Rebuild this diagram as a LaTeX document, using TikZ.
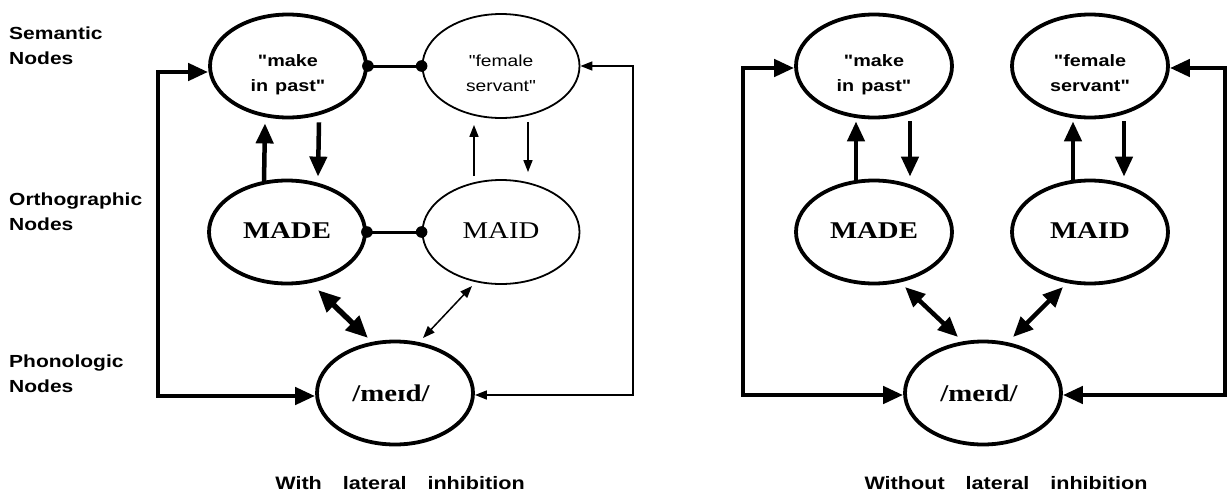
\documentclass[tikz,border=0pt]{standalone}
\usepackage{fontspec}
\setmainfont{Liberation Serif}[FakeStretch=1.2]
\setsansfont{Liberation Sans}[FakeStretch=1.2,Ligatures=TeXOff]
\usetikzlibrary{shapes.geometric,arrows.meta,calc}
\newcommand{\qd}{\char34\relax}
\newcommand{\twoline}[2]{\raisebox{-12pt}[0pt][0pt]{\begin{tabular}{@{}c@{}}#1\\#2\end{tabular}}}
\begin{document}
\begin{tikzpicture}[x=1pt,y=-1pt,
  thickell/.style={ellipse,draw,line width=3.8pt,minimum width=156pt,minimum height=103pt,inner sep=0pt},
  thinell/.style={ellipse,draw,line width=1.8pt,minimum width=157pt,minimum height=104pt,inner sep=0pt},
  sem/.style={font=\sffamily\bfseries\fontsize{16.5}{24}\selectfont\renewcommand{\arraystretch}{1.05}},
  semthin/.style={font=\sffamily\fontsize{16}{24}\selectfont\renewcommand{\arraystretch}{1.05}},
  orth/.style={font=\rmfamily\bfseries\fontsize{24}{28}\selectfont},
  orththin/.style={font=\rmfamily\fontsize{24}{28}\selectfont},
  lbl/.style={font=\sffamily\bfseries\fontsize{17.5}{25}\selectfont,align=left,anchor=west,inner sep=0pt},
  capt/.style={font=\sffamily\bfseries\fontsize{18}{22}\selectfont,inner sep=0pt},
  thickarr/.style={line width=4.5pt,-{Triangle[length=20pt,width=17pt]}},
  thinarr/.style={line width=1.5pt,-{Triangle[length=12pt,width=9pt]}},
  thickboth/.style={line width=4.5pt,{Triangle[length=20pt,width=17pt]}-{Triangle[length=20pt,width=17pt]}},
  heavyboth/.style={line width=5.5pt,{Triangle[length=22pt,width=19pt]}-{Triangle[length=22pt,width=19pt]}},
  thinboth/.style={line width=1.5pt,{Triangle[length=12pt,width=9pt]}-{Triangle[length=12pt,width=9pt]}},
  inhib/.style={line width=3pt},
  dotc/.style={fill=black}
]
\path[fill=white] (0,0) rectangle (1229,493);

% ---- row labels
\node[lbl] (lsem) at (9,46) {Semantic\\Nodes};
\node[lbl] (lort) at (9,212) {Orthographic\\Nodes};
\node[lbl] (lpho) at (9,374) {Phonologic\\Nodes};

% ---- left panel nodes
\node[thickell,sem] (L1) at (288,66) {\twoline{\qd make}{in\hspace{7pt}past\qd}};
\node[thinell,semthin] (L2) at (501,66) {\twoline{\qd female}{servant\qd}};
\node[thickell,orth] (L3) at (287,232) {\raisebox{3pt}{MADE}};
\node[thinell,orththin] (L4) at (501,232) {\raisebox{3pt}{MAID}};
\node[thickell,orth] (L5) at (395,393) {\hspace{-8pt}/meɪd/};

% ---- right panel nodes
\node[thickell,sem] (R1) at (874,66) {\twoline{\qd make}{in\hspace{7pt}past\qd}};
\node[thickell,sem] (R2) at (1090,66) {\twoline{\qd female}{servant\qd}};
\node[thickell,orth] (R3) at (874,232) {\raisebox{3pt}{MADE}};
\node[thickell,orth] (R4) at (1090,232) {\raisebox{3pt}{MAID}};
\node[thickell,orth] (R5) at (983,393) {\hspace{-8pt}/meɪd/};

% ---- captions
\node[capt] (c1) at (400,483) {With\hspace{21pt}lateral\hspace{21pt}inhibition};
\node[capt] (c2) at (1006,483) {Without\hspace{21pt}lateral\hspace{21pt}inhibition};

% ---- lateral inhibition (left)
\draw[inhib] (L1.east) -- (L2.west);
\fill[dotc] (L1.east) circle (5.8);
\fill[dotc] (L2.west) circle (5.8);
\draw[inhib] (L3.east) -- (L4.west);
\fill[dotc] (L3.east) circle (5.8);
\fill[dotc] (L4.west) circle (5.8);

% ---- vertical arrows (left)
\draw[thickarr] ($(L3.north)+(-23,3)$) -- ($(L1.south)+(-23,4)$);
\draw[thickarr] ($(L1.south)+(31,3)$) -- ($(L3.north)+(31,-2)$);
\draw[thinarr] ($(L4.north)+(-27,-3)$) -- ($(L2.south)+(-27,6)$);
\draw[thinarr] ($(L2.south)+(27,3)$) -- ($(L4.north)+(27,-7)$);

% ---- diagonal arrows (left)
\draw[heavyboth] ($(L3.center)+(31,58)$) -- ($(L5.center)+(-27,-55)$);
\draw[thinboth] ($(L4.center)+(-29,54)$) -- ($(L5.center)+(28,-55)$);

% ---- outer loops (left)
\coordinate (LLx) at (158,0);
\coordinate (LRx) at (633,0);
\coordinate (la) at ($(L1.west)+(0,6)$);
\coordinate (lb) at ($(L5.west)+(0,3)$);
\draw[thickboth,line join=miter] (la) -- (la -| LLx) -- (lb -| LLx) -- (lb);
\coordinate (ra) at ($(L2.east)+(0,0)$);
\coordinate (rb) at ($(L5.east)+(0,2)$);
\draw[thinboth,line join=miter] (ra) -- (ra -| LRx) -- (rb -| LRx) -- (rb);

% ---- vertical arrows (right)
\draw[thickarr] ($(R3.north)+(-18,3)$) -- ($(R1.south)+(-18,2)$);
\draw[thickarr] ($(R1.south)+(36,2)$) -- ($(R3.north)+(36,-2)$);
\draw[thickarr] ($(R4.north)+(-17,3)$) -- ($(R2.south)+(-17,2)$);
\draw[thickarr] ($(R2.south)+(34,2)$) -- ($(R4.north)+(34,-2)$);

% ---- diagonal arrows (right)
\draw[thickboth] ($(R3.center)+(31,55)$) -- ($(R5.center)+(-25,-56)$);
\draw[thickboth] ($(R4.center)+(-27,55)$) -- ($(R5.center)+(30,-56)$);

% ---- outer loops (right)
\coordinate (RLx) at (743,0);
\coordinate (RRx) at (1225,0);
\coordinate (sa) at ($(R1.west)+(0,2)$);
\coordinate (sb) at ($(R5.west)+(0,2)$);
\draw[thickboth,line join=miter] (sa) -- (sa -| RLx) -- (sb -| RLx) -- (sb);
\coordinate (ta) at ($(R2.east)+(0,2)$);
\coordinate (tb) at ($(R5.east)+(0,2)$);
\draw[thickboth,line join=miter] (ta) -- (ta -| RRx) -- (tb -| RRx) -- (tb);
\end{tikzpicture}
\end{document}
